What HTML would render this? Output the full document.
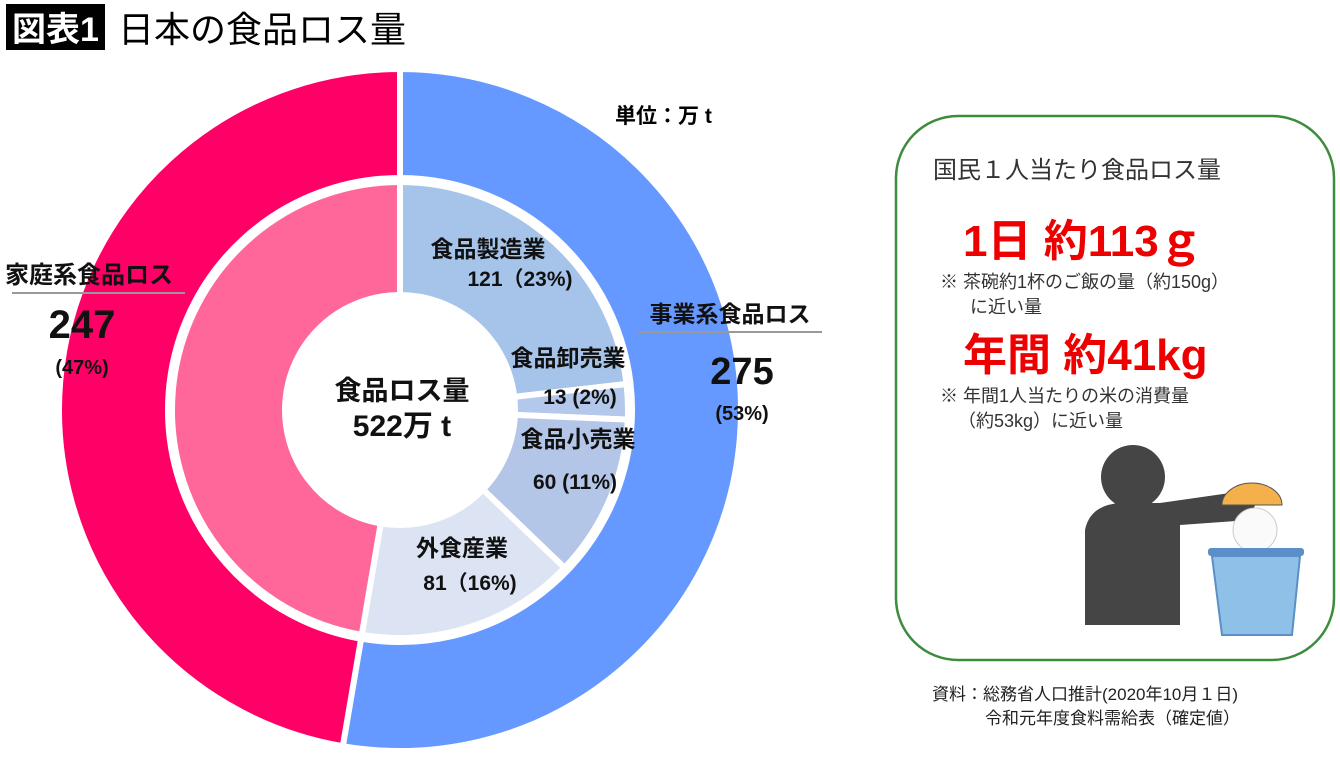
<!DOCTYPE html>
<html><head><meta charset="utf-8"><style>
body{margin:0;width:1340px;height:757px;background:#fff;overflow:hidden;font-family:"Liberation Sans","Noto Sans CJK JP",sans-serif;}
svg{position:absolute;left:0;top:0}
</style></head><body>
<svg width="1340" height="757">
<g id="donut"></g>
<rect x="6" y="4" width="99" height="46" fill="#000"/>
<text x="12" y="41" font-size="34" fill="#fff" font-weight="bold">図表1</text>
<text x="118" y="42" font-size="36" fill="#000">日本の食品ロス量</text>
<text x="615" y="123" font-size="21" font-weight="bold">単位：万 t</text>
<g id="labels" font-weight="bold" text-anchor="middle" fill="#111"></g>
<line x1="12" y1="293" x2="185" y2="293" stroke="#999" stroke-width="2"/>
<line x1="638" y1="332" x2="822" y2="332" stroke="#999" stroke-width="2"/>
<rect x="896" y="116" width="438" height="544" rx="62" fill="#fff" stroke="#3d8b3d" stroke-width="2.5"/>
<text x="933" y="178" font-size="24" fill="#333">国民１人当たり食品ロス量</text>
<text x="963" y="256" font-size="44" font-weight="bold" fill="#e00">1日 約113ｇ</text>
<text x="940" y="288" font-size="18" fill="#333">※ 茶碗約1杯のご飯の量（約150g）</text>
<text x="970" y="313" font-size="18" fill="#333">に近い量</text>
<text x="963" y="370" font-size="44" font-weight="bold" fill="#e00">年間 約41kg</text>
<text x="940" y="402" font-size="18" fill="#333">※ 年間1人当たりの米の消費量</text>
<text x="958" y="427" font-size="18" fill="#333">（約53kg）に近い量</text>
<g>
<circle cx="1133" cy="477" r="32" fill="#454545"/>
<path d="M1085 625 L1085 530 Q1090 505 1120 503 L1160 503 L1230 493 Q1250 490 1255 505 L1250 520 L1180 525 L1180 625 Z" fill="#454545"/>
<path d="M1222 505 A30 22 0 0 1 1282 505 Z" fill="#f4b04a" stroke="#555"/>
<circle cx="1255" cy="530" r="22" fill="#fafafa" stroke="#ccc"/>
<rect x="1208" y="548" width="96" height="8" rx="3" fill="#5b8fc7"/>
<path d="M1212 556 L1300 556 L1292 635 L1222 635 Z" fill="#8ec0e8" stroke="#5b8fc7" stroke-width="2"/>
</g>
<text x="932" y="700" font-size="17" fill="#222">資料：総務省人口推計(2020年10月１日)</text>
<text x="985" y="724" font-size="17" fill="#222">令和元年度食料需給表（確定値）</text>
</svg>
<script>
const outerCategories=['事業系食品ロス','家庭系食品ロス'];
const outerValues=[275,247];
const innerCategories=['食品製造業','食品卸売業','食品小売業','外食産業','家庭系'];
const innerValues=[121,13,60,81,247];
const outerColors=['#6699ff','#ff0066'];
const innerColors=['#a6c4ea','#b3c8ea','#b4c6e8','#dce4f3','#ff6699'];
const NS='http://www.w3.org/2000/svg';
const cx=400,cy=410;
function pt(a,r){return [cx+r*Math.sin(a),cy-r*Math.cos(a)];}
function arc(a0,a1,r0,r1){const p=pt(a0,r1),q=pt(a1,r1),s=pt(a1,r0),t=pt(a0,r0);const l=(a1-a0)>Math.PI?1:0;
return `M${p[0]} ${p[1]}A${r1} ${r1} 0 ${l} 1 ${q[0]} ${q[1]}L${s[0]} ${s[1]}A${r0} ${r0} 0 ${l} 0 ${t[0]} ${t[1]}Z`;}
function ring(vals,cols,r0,r1,name){const tot=vals.reduce((a,b)=>a+b,0);let a=0;const g=document.getElementById('donut');
vals.forEach((v,i)=>{const a1=a+v/tot*2*Math.PI;const p=document.createElementNS(NS,'path');
p.setAttribute('d',arc(a,a1,r0,r1));p.setAttribute('fill',cols[i]);p.setAttribute('stroke','#fff');p.setAttribute('stroke-width','6');


g.appendChild(p);a=a1;});}
ring(outerValues,outerColors,232,341,'outer-slice');
ring(innerValues,innerColors,115,228,'inner-slice');
const L=[
['家庭系食品ロス',95,283,24,'household-label','start',5],
[String(outerValues[1]),82,338,40,'household-value'],
['('+Math.round(outerValues[1]/522*100)+'%)',82,374,20,'household-pct'],
['事業系食品ロス',730,322,23,'business-label'],
[String(outerValues[0]),742,384,38,'business-value'],
['('+Math.round(outerValues[0]/522*100)+'%)',742,420,20,'business-pct'],
['食品ロス量',402,400,27,'center-label'],
['522万 t',402,436,30,'center-value'],
['食品製造業',488,257,23,'manufacturing-label'],
[innerValues[0]+'（23%)',520,286,21,'manufacturing-value'],
['食品卸売業',568,366,23,'wholesale-label'],
[innerValues[1]+' (2%)',580,404,21,'wholesale-value'],
['食品小売業',578,447,23,'retail-label'],
[innerValues[2]+' (11%)',575,489,21,'retail-value'],
['外食産業',462,556,23,'restaurant-label'],
[innerValues[3]+'（16%)',470,590,21,'restaurant-value']];
const lg=document.getElementById('labels');
L.forEach(d=>{const t=document.createElementNS(NS,'text');t.textContent=d[0];
t.setAttribute('x',d[5]?d[6]:d[1]);t.setAttribute('y',d[2]);t.setAttribute('font-size',d[3]);
if(d[5])t.setAttribute('text-anchor',d[5]);


lg.appendChild(t);});
</script>
</body></html>
